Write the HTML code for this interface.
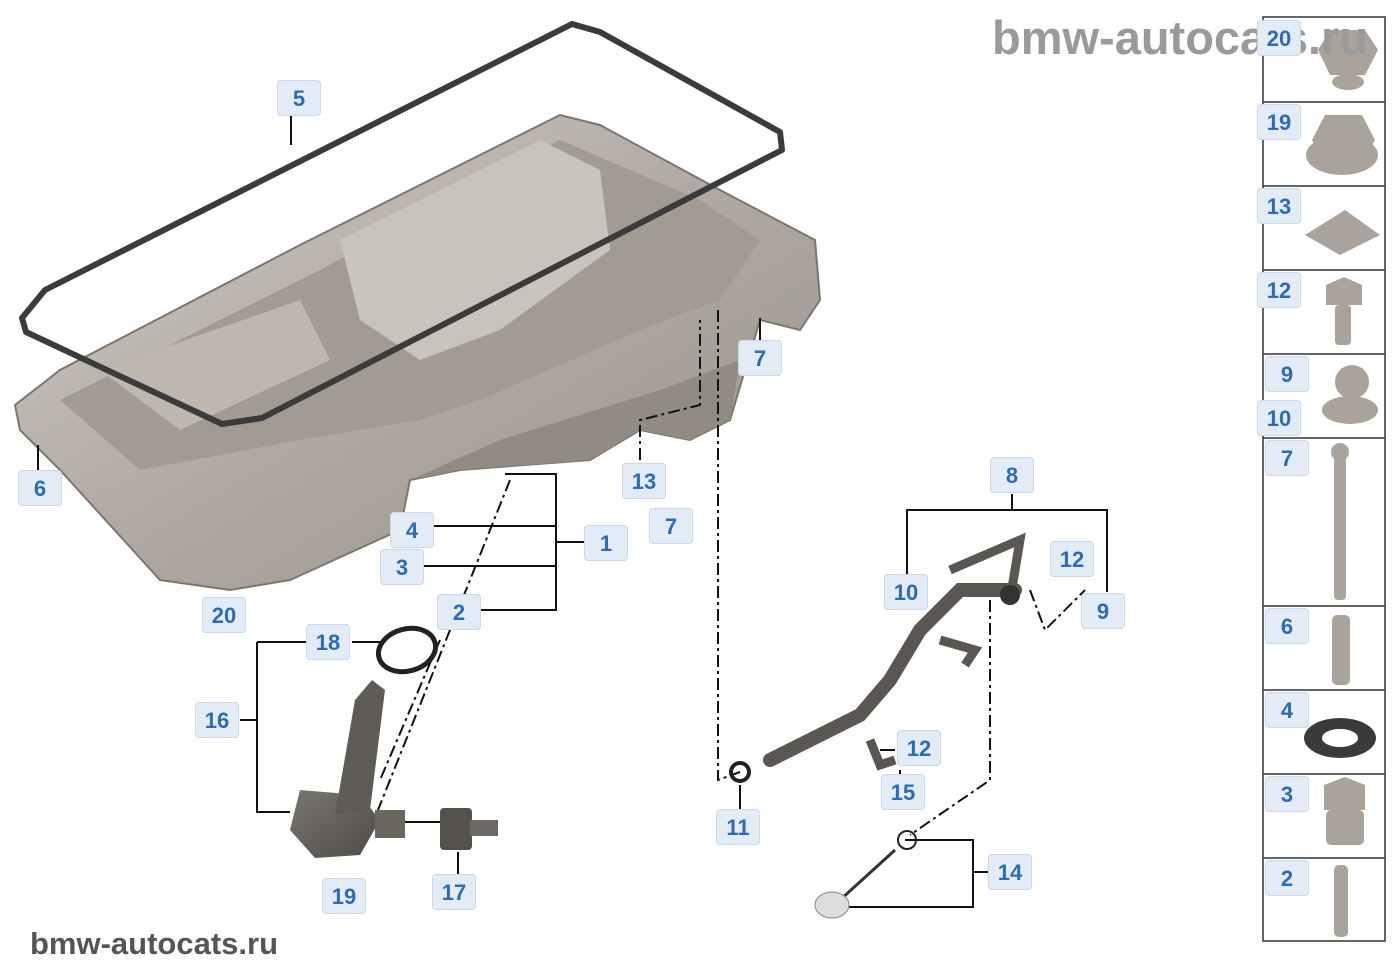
<!DOCTYPE html>
<html><head><meta charset="utf-8"><style>
body{margin:0;background:#fff;width:1400px;height:980px;overflow:hidden;font-family:"Liberation Sans",sans-serif}
.l{position:absolute;width:44px;height:36px;background:#e3ecf6;border:1px solid #c9d9ea;border-radius:4px;color:#2d6cb3;font-weight:bold;font-size:22px;line-height:36px;text-align:center;box-sizing:border-box}
.wm{position:absolute;color:#9a9a9a;font-weight:bold;white-space:nowrap}
</style></head><body>
<svg width="1400" height="980" style="position:absolute;left:0;top:0">
<defs>
<linearGradient id="g" x1="0" y1="0" x2="1" y2="1"><stop offset="0" stop-color="#d2cdc7"/><stop offset="0.5" stop-color="#b0aaa3"/><stop offset="1" stop-color="#959089"/></linearGradient>
<linearGradient id="d" x1="0" y1="0" x2="1" y2="1"><stop offset="0" stop-color="#7a7670"/><stop offset="1" stop-color="#4e4b47"/></linearGradient>
</defs>
<path d="M15,405 L60,370 L300,245 L560,115 L600,125 L720,190 L815,240 L820,300 L800,330 L760,320 L730,420 L690,440 L640,430 L590,460 L460,470 L410,480 L400,530 L290,580 L230,590 L160,580 L60,470 L20,430 Z" fill="url(#g)" stroke="#7c766f" stroke-width="2"/>
<path d="M60,400 L320,270 L560,140 L700,200 L760,240 L720,300 L640,330 L480,400 L420,420 L300,440 L140,470 Z" fill="#a19b94"/>
<path d="M340,240 L540,140 L600,170 L610,250 L500,330 L420,360 L360,320 Z" fill="#c8c3bd"/>
<path d="M100,370 L300,300 L330,360 L180,430 Z" fill="#bdb7b0"/>
<path d="M410,480 L460,470 L590,460 L640,430 L690,440 L730,420 L740,360 L660,390 L500,440 Z" fill="#918b84"/>
<path d="M22,318 L45,290 L572,24 L600,32 L780,132 L782,150 L262,418 L222,424 L26,332 Z" fill="none" stroke="#3b3b3b" stroke-width="6" stroke-linejoin="round"/>
<g stroke="#111" stroke-width="2" fill="none">
<path d="M291,116 V145"/><path d="M38,445 V470"/><path d="M760,318 V340"/>
<path d="M505,474 H556 V610 H480 M432,526 H556 M424,566 H556 M556,542 H584"/>
<path d="M1012,494 V510 H907 V575 M1012,510 H1107 V592"/>
<path d="M257,642 H306 M257,642 V812 H290 M240,720 H257 M352,642 H380"/>
<path d="M740,785 V810 M458,852 V875 M405,822 H440"/>
<path d="M905,840 H973 V907 H848 M973,872 H990"/>
<path d="M880,750 H895 M900,770 V780"/>
</g>
<g stroke="#111" stroke-width="2" fill="none" stroke-dasharray="12,4,3,4">
<path d="M718,310 V780 L740,772"/><path d="M510,480 L370,830"/><path d="M440,640 L380,780"/>
<path d="M990,600 V780 L910,835"/><path d="M640,460 V420 L700,405 V320"/><path d="M1030,590 L1045,630 L1085,590"/>
</g>
<ellipse cx="407" cy="650" rx="29" ry="21" fill="none" stroke="#222" stroke-width="5" transform="rotate(-15 407 650)"/>
<path d="M300,790 L360,795 L380,820 L360,855 L315,858 L290,830 Z" fill="url(#d)"/>
<path d="M335,815 L355,700 L372,680 L385,690 L370,810 Z" fill="#5f5b56"/>
<rect x="375" y="810" width="30" height="28" fill="#6a6660"/>
<rect x="440" y="808" width="32" height="42" rx="4" fill="#55524e"/>
<rect x="470" y="820" width="28" height="16" fill="#6b6761"/>
<path d="M770,760 L860,715 L890,680 L920,630 L960,590 L1015,590" fill="none" stroke="#5a5652" stroke-width="14" stroke-linecap="round"/>
<path d="M870,740 L880,765 L895,760 M950,570 L1020,540 L1010,600 M940,640 L975,650 L965,665" fill="none" stroke="#5a5652" stroke-width="9"/>
<circle cx="1010" cy="595" r="10" fill="#333"/>
<circle cx="740" cy="772" r="9" fill="none" stroke="#222" stroke-width="4"/>
<circle cx="907" cy="840" r="9" fill="none" stroke="#222" stroke-width="2"/>
<path d="M895,850 L840,900" stroke="#333" stroke-width="3"/>
<ellipse cx="832" cy="905" rx="17" ry="13" fill="#ddd" stroke="#888"/>
<g fill="none" stroke="#333" stroke-width="1.5">
<rect x="1263" y="17" width="122" height="924"/>
<path d="M1263,102 H1385 M1263,186 H1385 M1263,270 H1385 M1263,354 H1385 M1263,438 H1385 M1263,606 H1385 M1263,690 H1385 M1263,774 H1385 M1263,858 H1385"/>
</g>
<g fill="#a9a39c">
<path d="M1330,30 L1365,30 L1378,50 L1365,75 L1330,75 L1318,50 Z"/><ellipse cx="1348" cy="82" rx="16" ry="8"/>
<ellipse cx="1342" cy="155" rx="36" ry="20"/><path d="M1325,115 L1362,115 L1375,140 L1360,165 L1325,165 L1312,140 Z"/>
<path d="M1305,235 L1345,210 L1380,235 L1340,255 Z"/>
<path d="M1326,285 L1344,277 L1362,285 L1362,305 L1326,305 Z"/><rect x="1335" y="305" width="16" height="40" rx="4"/>
<ellipse cx="1350" cy="410" rx="28" ry="14"/><circle cx="1352" cy="382" r="17"/>
<rect x="1334" y="450" width="12" height="150" rx="4"/><circle cx="1340" cy="452" r="9"/>
<rect x="1332" y="615" width="18" height="70" rx="5"/>
<rect x="1334" y="865" width="14" height="72" rx="5"/>
<path d="M1324,785 L1345,777 L1365,785 L1365,810 L1324,810 Z"/><rect x="1326" y="810" width="38" height="35" rx="5"/>
</g>
<ellipse cx="1340" cy="738" rx="36" ry="20" fill="#3a3a3a"/><ellipse cx="1340" cy="738" rx="18" ry="9" fill="#fff"/>
</svg>
<div class="wm" style="left:992px;top:10px;font-size:47px">bmw-autocats.ru</div>
<div class="wm" style="left:30px;top:926px;font-size:31px;color:#555">bmw-autocats.ru</div>
<div class="l" style="left:277px;top:80px">5</div>
<div class="l" style="left:18px;top:470px">6</div>
<div class="l" style="left:738px;top:340px">7</div>
<div class="l" style="left:649px;top:508px">7</div>
<div class="l" style="left:622px;top:463px">13</div>
<div class="l" style="left:390px;top:512px">4</div>
<div class="l" style="left:380px;top:549px">3</div>
<div class="l" style="left:584px;top:525px">1</div>
<div class="l" style="left:437px;top:594px">2</div>
<div class="l" style="left:202px;top:597px">20</div>
<div class="l" style="left:306px;top:624px">18</div>
<div class="l" style="left:195px;top:702px">16</div>
<div class="l" style="left:322px;top:878px">19</div>
<div class="l" style="left:432px;top:874px">17</div>
<div class="l" style="left:716px;top:809px">11</div>
<div class="l" style="left:990px;top:457px">8</div>
<div class="l" style="left:1050px;top:541px">12</div>
<div class="l" style="left:884px;top:574px">10</div>
<div class="l" style="left:1081px;top:593px">9</div>
<div class="l" style="left:897px;top:730px">12</div>
<div class="l" style="left:881px;top:774px">15</div>
<div class="l" style="left:988px;top:854px">14</div>
<div class="l" style="left:1257px;top:20px">20</div>
<div class="l" style="left:1257px;top:104px">19</div>
<div class="l" style="left:1257px;top:188px">13</div>
<div class="l" style="left:1257px;top:272px">12</div>
<div class="l" style="left:1265px;top:356px">9</div>
<div class="l" style="left:1257px;top:400px">10</div>
<div class="l" style="left:1265px;top:440px">7</div>
<div class="l" style="left:1265px;top:608px">6</div>
<div class="l" style="left:1265px;top:692px">4</div>
<div class="l" style="left:1265px;top:776px">3</div>
<div class="l" style="left:1265px;top:860px">2</div>
</body></html>
